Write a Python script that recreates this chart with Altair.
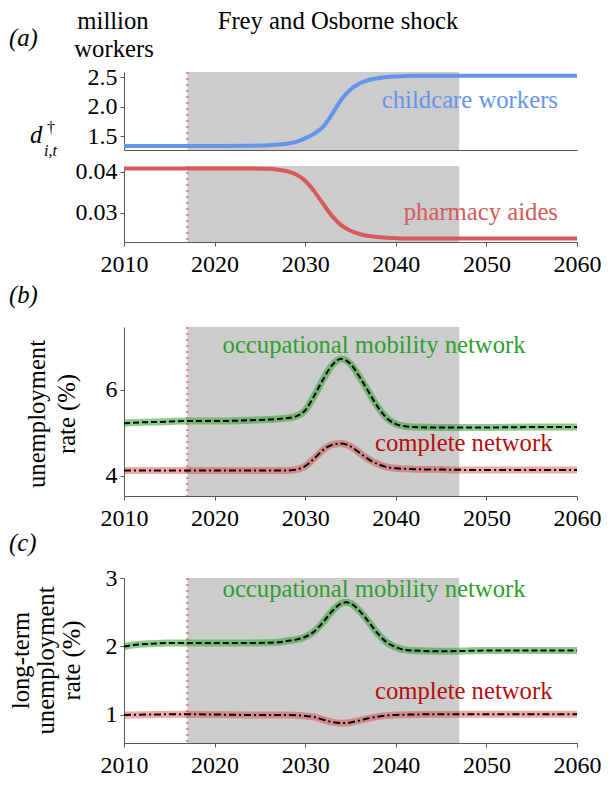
import altair as alt
import pandas as pd

FONT = "Liberation Serif"

# ---------------- data ----------------
shock_start = 2017
shock_end = 2047

childcare_years = [2010, 2015, 2020, 2024, 2026, 2027, 2028, 2029, 2030, 2031, 2032, 2033,
                   2034, 2035, 2036, 2037, 2038, 2039, 2040, 2042, 2050, 2060]
childcare_vals = [1.33, 1.33, 1.33, 1.335, 1.345, 1.355, 1.37, 1.40, 1.46, 1.54, 1.66, 1.88,
                  2.12, 2.29, 2.39, 2.45, 2.48, 2.50, 2.51, 2.52, 2.52, 2.52]

pharm_years = [2010, 2015, 2020, 2024, 2026, 2027, 2028, 2029, 2030, 2031, 2032, 2033,
               2034, 2035, 2036, 2037, 2038, 2039, 2040, 2042, 2050, 2060]
pharm_vals = [0.0408, 0.0408, 0.0408, 0.0408, 0.0407, 0.0405, 0.0401, 0.0393, 0.0378, 0.0352,
              0.0321, 0.0291, 0.0269, 0.0256, 0.0248, 0.0243, 0.0241, 0.0239, 0.0238, 0.0237,
              0.0237, 0.0237]

unemp_omn_years = [2010, 2012, 2014, 2017, 2020, 2024, 2027, 2028, 2029, 2030, 2031, 2032,
                   2033, 2034, 2035, 2036, 2037, 2038, 2039, 2040, 2041, 2042, 2045, 2050,
                   2055, 2060]
unemp_omn_vals = [5.22, 5.24, 5.25, 5.27, 5.27, 5.29, 5.32, 5.34, 5.38, 5.52, 5.86, 6.25,
                  6.58, 6.72, 6.60, 6.30, 5.95, 5.60, 5.34, 5.20, 5.15, 5.13, 5.12, 5.12,
                  5.13, 5.13]

unemp_cn_years = [2010, 2017, 2024, 2028, 2029, 2030, 2031, 2032, 2033, 2034, 2035, 2036,
                  2037, 2038, 2039, 2040, 2042, 2045, 2050, 2060]
unemp_cn_vals = [4.12, 4.12, 4.12, 4.12, 4.14, 4.22, 4.40, 4.60, 4.72, 4.75, 4.68, 4.53,
                 4.38, 4.27, 4.20, 4.17, 4.15, 4.14, 4.13, 4.13]

lt_omn_years = [2010, 2011, 2013, 2015, 2017, 2020, 2024, 2027, 2028, 2029, 2030, 2031,
                2032, 2033, 2034, 2034.5, 2035, 2036, 2037, 2038, 2039, 2040, 2041, 2042,
                2045, 2050, 2055, 2060]
lt_omn_vals = [2.00, 2.02, 2.04, 2.05, 2.05, 2.05, 2.05, 2.06, 2.08, 2.10, 2.14, 2.22,
               2.36, 2.52, 2.63, 2.645, 2.63, 2.52, 2.36, 2.19, 2.06, 1.99, 1.95, 1.94,
               1.93, 1.94, 1.94, 1.94]

lt_cn_years = [2010, 2017, 2024, 2028, 2029, 2030, 2031, 2032, 2033, 2034, 2035, 2036,
               2037, 2038, 2039, 2040, 2045, 2050, 2060]
lt_cn_vals = [1.00, 1.01, 1.00, 1.00, 0.995, 0.985, 0.97, 0.93, 0.895, 0.88, 0.89, 0.92,
              0.95, 0.975, 0.99, 1.00, 1.01, 1.01, 1.01]

x_ticks = [2010, 2020, 2030, 2040, 2050, 2060]

# ---------------- styling ----------------
W = 453
TFS = 24.7
BLUE = "#6495ED"
RED = "#d65a5a"
GREEN = "#2ca02c"
DARKRED = "#b50d0d"
SHADE = "#cccccc"
AXC = "#555555"

xscale = alt.Scale(domain=[2010, 2060], nice=False, zero=False)
DUMMY = pd.DataFrame({"d": [0]})

XAX_FULL = alt.Axis(values=x_ticks, format="d", tickSize=4, labelPadding=6, title=None,
                    labelFlush=False, domainColor=AXC, tickColor=AXC)
XAX_BARE = alt.Axis(ticks=False, labels=False, title=None, domainColor=AXC)


def yaxis(values, fmt):
    return alt.Axis(values=values, format=fmt, tickSize=4, labelPadding=3, title=None,
                    labelFlush=False, domainColor=AXC, tickColor=AXC)


def background(h, xax):
    shade = alt.Chart(pd.DataFrame({"s": [shock_start], "e": [shock_end]})).mark_rect(
        color=SHADE).encode(
        x=alt.X("s:Q", scale=xscale, axis=xax), x2="e:Q",
        y=alt.value(0), y2=alt.value(h))
    vline = alt.Chart(pd.DataFrame({"s": [shock_start]})).mark_rule(
        color="#e08585", strokeDash=[2, 4], strokeWidth=2.5).encode(
        x=alt.X("s:Q", scale=xscale, axis=xax), y=alt.value(0), y2=alt.value(h))
    return [shade, vline]


def series(years, vals, yscale, xax, yax, **mk):
    df = pd.DataFrame({"year": years, "v": vals})
    return alt.Chart(df).mark_line(interpolate="monotone", **mk).encode(
        x=alt.X("year:Q", scale=xscale, axis=xax),
        y=alt.Y("v:Q", scale=yscale, axis=yax))


def annot(text, x, y, yscale, xax, yax, color, align="center"):
    df = pd.DataFrame({"x": [x], "y": [y]})
    return alt.Chart(df).mark_text(text=text, font=FONT, fontSize=TFS, color=color,
                                   align=align, baseline="alphabetic").encode(
        x=alt.X("x:Q", scale=xscale, axis=xax),
        y=alt.Y("y:Q", scale=yscale, axis=yax))


def label(text, x, y, size=TFS, italic=False, align="left", baseline="alphabetic",
          angle=0):
    kw = dict(text=text, font=FONT, fontSize=size, color="black", align=align,
              baseline=baseline, angle=angle)
    if italic:
        kw["fontStyle"] = "italic"
    return alt.Chart(DUMMY).mark_text(**kw).encode(x=alt.value(x), y=alt.value(y))


def vlabel(text, x, y):
    return label(text, x, y, align="center", baseline="middle", angle=270)


# ---------------- panel (a) top ----------------
H_AT = 78
ys_at = alt.Scale(domain=[1.263, 2.585], nice=False, zero=False)
yax_at = yaxis([1.5, 2.0, 2.5], ".1f")
a_top = alt.layer(
    *background(H_AT, XAX_BARE),
    series(childcare_years, childcare_vals, ys_at, XAX_BARE, yax_at,
           color=BLUE, strokeWidth=4),
    annot("childcare workers", 2057.9, 1.97, ys_at, XAX_BARE, yax_at, BLUE, align="right"),
    label("Frey and Osborne shock", 214, -43.5, align="center"),
    label("million", -11, -43, align="center"),
    label("workers", -10, -15, align="center"),
    label("(a)", -115, -26, italic=True),
    label("d", -94, 70.5, italic=True),
    label("\u2020", -73, 61, size=16, align="center"),
    label("i,t", -80, 84, size=16, italic=True),
).properties(width=W, height=H_AT)

# ---------------- panel (a) bottom ----------------
H_AB = 76
ys_ab = alt.Scale(domain=[0.02286, 0.04139], nice=False, zero=False)
yax_ab = yaxis([0.03, 0.04], ".2f")
a_bot = alt.layer(
    *background(H_AB, XAX_FULL),
    series(pharm_years, pharm_vals, ys_ab, XAX_FULL, yax_ab, color=RED, strokeWidth=4),
    annot("pharmacy aides", 2057.9, 0.0282, ys_ab, XAX_FULL, yax_ab, RED, align="right"),
).properties(width=W, height=H_AB)

# ---------------- panel (b) ----------------
H_B = 169
ys_b = alt.Scale(domain=[3.525, 7.46], nice=False, zero=False)
yax_b = yaxis([4, 6], "d")
b_panel = alt.layer(
    *background(H_B, XAX_FULL),
    series(unemp_omn_years, unemp_omn_vals, ys_b, XAX_FULL, yax_b,
           color=GREEN, strokeWidth=7, opacity=0.55),
    series(unemp_omn_years, unemp_omn_vals, ys_b, XAX_FULL, yax_b,
           color="black", strokeWidth=2, strokeDash=[6, 3]),
    series(unemp_cn_years, unemp_cn_vals, ys_b, XAX_FULL, yax_b,
           color="#d62728", strokeWidth=7, opacity=0.4),
    series(unemp_cn_years, unemp_cn_vals, ys_b, XAX_FULL, yax_b,
           color="black", strokeWidth=2, strokeDash=[7, 3, 2, 3]),
    annot("occupational mobility network", 2037.6, 6.855, ys_b, XAX_FULL, yax_b, GREEN),
    annot("complete network", 2047.5, 4.577, ys_b, XAX_FULL, yax_b, DARKRED),
    label("(b)", -115, -24, italic=True),
    vlabel("unemployment", -86, 87),
    vlabel("rate (%)", -56, 87),
).properties(width=W, height=H_B)

# ---------------- panel (c) ----------------
H_C = 165
ys_c = alt.Scale(domain=[0.59, 3.0], nice=False, zero=False)
yax_c = yaxis([1, 2, 3], "d")
c_panel = alt.layer(
    *background(H_C, XAX_FULL),
    series(lt_omn_years, lt_omn_vals, ys_c, XAX_FULL, yax_c,
           color=GREEN, strokeWidth=7, opacity=0.55),
    series(lt_omn_years, lt_omn_vals, ys_c, XAX_FULL, yax_c,
           color="black", strokeWidth=2, strokeDash=[6, 3]),
    series(lt_cn_years, lt_cn_vals, ys_c, XAX_FULL, yax_c,
           color="#d62728", strokeWidth=7, opacity=0.4),
    series(lt_cn_years, lt_cn_vals, ys_c, XAX_FULL, yax_c,
           color="black", strokeWidth=2, strokeDash=[7, 3, 2, 3]),
    annot("occupational mobility network", 2037.6, 2.727, ys_c, XAX_FULL, yax_c, GREEN),
    annot("complete network", 2047.5, 1.231, ys_c, XAX_FULL, yax_c, DARKRED),
    label("(c)", -115, -27, italic=True),
    vlabel("long-term", -102.5, 82.5),
    vlabel("unemployment", -77.5, 82.5),
    vlabel("rate (%)", -51, 82.5),
).properties(width=W, height=H_C)


def spacer(h):
    return alt.Chart(DUMMY).mark_point(opacity=0).encode(
        x=alt.value(0), y=alt.value(0)).properties(width=W, height=h)


chart = alt.vconcat(
    a_top, a_bot, spacer(53), b_panel, spacer(50), c_panel,
    spacing=16, bounds="flush"
).properties(
    padding={"left": 0, "top": 0, "right": 0, "bottom": 0}
).configure_view(stroke=None).configure_axis(
    labelFont=FONT, labelFontSize=24, labelColor="black", grid=False,
    domainWidth=1, tickWidth=1
)

chart.save("out.html", embed_options={"renderer": "svg", "actions": False})
